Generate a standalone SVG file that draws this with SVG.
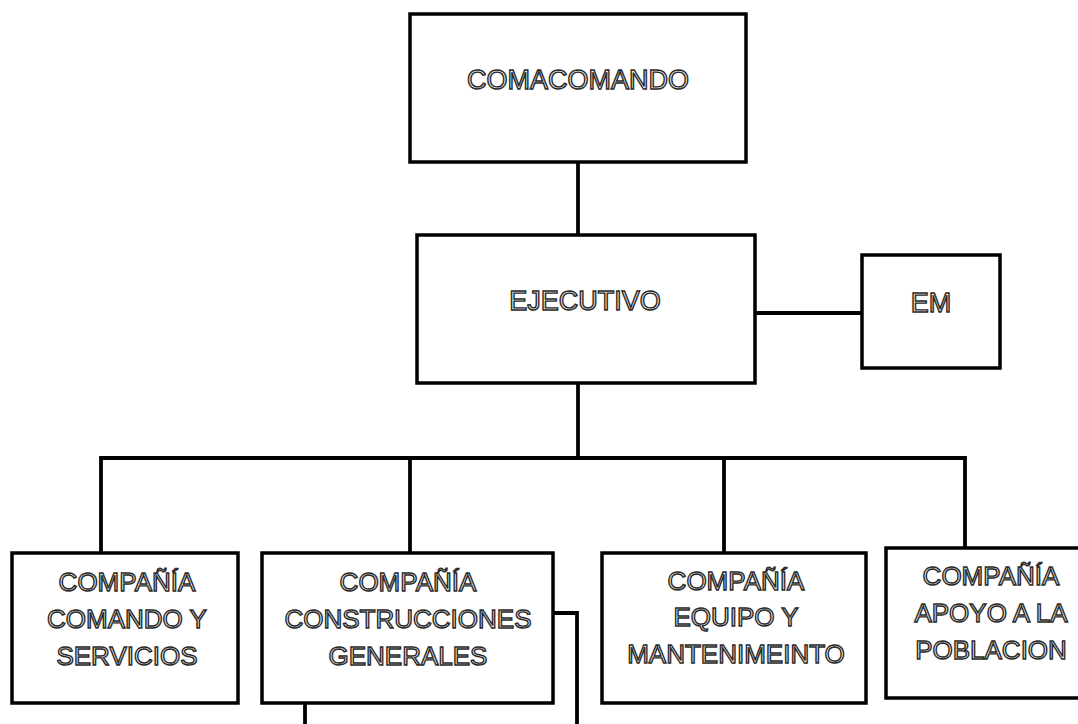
<svg xmlns="http://www.w3.org/2000/svg" width="1078" height="724" viewBox="0 0 1078 724">
<style>
.box{fill:#fff;stroke:#000;stroke-width:3.5}
.t{font-family:"Liberation Sans",Arial,sans-serif;fill:#f2f2f2;stroke:#2a2a2a;stroke-width:1.4;text-anchor:middle}
.t1{font-size:27px}
.t2{font-size:26px}
.c{fill:none;stroke:#000;stroke-width:3.8}
</style>
<rect width="1078" height="724" fill="#fff"/>
<g id="connectors">
<line class="c" x1="578" y1="162" x2="578" y2="235"/>
<line class="c" x1="752" y1="313" x2="862" y2="313"/>
<line class="c" x1="578" y1="383" x2="578" y2="458"/>
<polyline class="c" points="101,553 101,458 965,458 965,548"/>
<line class="c" x1="410" y1="458" x2="410" y2="553"/>
<line class="c" x1="724" y1="458" x2="724" y2="553"/>
<polyline class="c" points="553,613 577,613 577,724"/>
<line class="c" x1="305" y1="703" x2="305" y2="724"/>
</g>
<g id="comacomando">
<rect class="box" x="410" y="14" width="336" height="148"/>
<text class="t t1" x="578" y="89">COMACOMANDO</text>
</g>
<g id="ejecutivo">
<rect class="box" x="417" y="235" width="338" height="148"/>
<text class="t t1" x="585" y="310">EJECUTIVO</text>
</g>
<g id="em">
<rect class="box" x="862" y="255" width="138" height="113"/>
<text class="t t1" x="931" y="312">EM</text>
</g>
<g id="cia-comando">
<rect class="box" x="12" y="553" width="226" height="150"/>
<text class="t t2" x="127" y="591">COMPAÑÍA</text>
<text class="t t2" x="127" y="628">COMANDO Y</text>
<text class="t t2" x="127" y="665">SERVICIOS</text>
</g>
<g id="cia-construcciones">
<rect class="box" x="262" y="553" width="291" height="150"/>
<text class="t t2" x="408" y="591">COMPAÑÍA</text>
<text class="t t2" x="408" y="628">CONSTRUCCIONES</text>
<text class="t t2" x="408" y="665">GENERALES</text>
</g>
<g id="cia-equipo">
<rect class="box" x="602" y="553" width="264" height="150"/>
<text class="t t2" x="736" y="590">COMPAÑÍA</text>
<text class="t t2" x="736" y="626">EQUIPO Y</text>
<text class="t t2" x="736" y="663">MANTENIMEINTO</text>
</g>
<g id="cia-apoyo">
<rect class="box" x="886" y="548" width="200" height="150"/>
<text class="t t2" x="991" y="585">COMPAÑÍA</text>
<text class="t t2" x="991" y="622">APOYO A LA</text>
<text class="t t2" x="991" y="659">POBLACION</text>
</g>
</svg>
